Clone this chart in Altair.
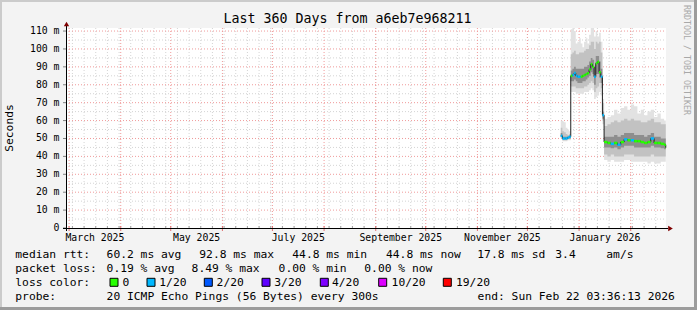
import altair as alt
import pandas as pd

# ---------------- values ----------------
dates = ["2025-12-21", "2025-12-22", "2025-12-23", "2025-12-24", "2025-12-25", "2025-12-26",
         "2025-12-27", "2025-12-28", "2025-12-29", "2025-12-30", "2025-12-31",
         "2026-01-01", "2026-01-02", "2026-01-03", "2026-01-04", "2026-01-05", "2026-01-06",
         "2026-01-07", "2026-01-08", "2026-01-09", "2026-01-10", "2026-01-11", "2026-01-12",
         "2026-01-13", "2026-01-14", "2026-01-15",
         "2026-01-16", "2026-01-18", "2026-01-20", "2026-01-22", "2026-01-24", "2026-01-26",
         "2026-01-28", "2026-01-30", "2026-02-01", "2026-02-03", "2026-02-05", "2026-02-07",
         "2026-02-09", "2026-02-11", "2026-02-13", "2026-02-15", "2026-02-17", "2026-02-19",
         "2026-02-21", "2026-02-22"]
end_time = "2026-02-22T03:36:13Z"

median_ms = [51.5, 50, 50, 50, 50.5, 51,
             85, 85.5, 86.5, 85, 84.5,
             84.5, 84.5, 85, 85.5, 86, 86.5,
             88.5, 91.5, 90, 84.5, 92, 92.8,
             87, 84.5, 63,
             48, 47.5, 47, 47.5, 46.5, 48,
             49.5, 49, 49, 48.5, 48.5, 48,
             47.5, 48, 50, 47.5, 47.5, 47,
             46.5, 44.8]
lost_pings = [1, 1, 1, 1, 1, 1,
              0, 1, 1, 1, 1,
              1, 0, 0, 0, 0, 0,
              0, 0, 0, 1, 0, 0,
              0, 1, 1,
              0, 0, 1, 0, 1, 0,
              1, 0, 1, 0, 0, 0,
              0, 0, 1, 0, 0, 0,
              0, 0]
ping_min = [50, 48.5, 48.5, 48.5, 49, 49,
            76, 76, 76, 75, 75,
            75, 75, 75, 76, 76, 76,
            77, 78, 77, 72, 73, 74,
            76, 74, 58,
            38, 37, 38, 37, 37, 37,
            38, 38, 37, 37, 37, 37,
            37, 36, 37, 36, 36, 37,
            37, 36]
ping_lo2 = [50.5, 49, 49, 49, 49.5, 49.5,
            79, 79, 79, 78, 78,
            78, 78, 78, 79, 79, 80,
            81, 82, 81, 76, 78, 79,
            81, 78, 60,
            41, 40, 41, 40, 40, 40,
            41, 41, 41, 40, 40, 40,
            40, 40, 41, 40, 40, 40,
            40, 39]
ping_lo3 = [51, 49.5, 49.5, 49.5, 50, 50,
            82, 82, 83, 82, 81,
            81, 81, 82, 82, 83, 84,
            85, 87, 86, 80, 86, 86,
            84, 81, 61,
            45, 45, 44.5, 45, 44, 45,
            46, 46, 46, 45, 45, 45,
            45, 45, 46, 45, 45, 44.5,
            44, 43]
ping_hi3 = [53, 51, 51, 51, 51, 51.5,
            88, 89, 90, 89, 89,
            89, 89, 89, 90, 90, 91,
            93, 95, 94, 90, 96, 96,
            93, 89, 65,
            51, 51, 51, 52, 51, 52,
            53, 53, 53, 52, 52, 52,
            51, 52, 53, 51, 51, 50,
            50, 49]
ping_hi2 = [56, 54, 53.5, 52.5, 52, 52.5,
            97, 98, 99, 97, 97,
            98, 98, 98, 99, 100, 100,
            102, 104, 104, 100, 104, 103,
            104, 98, 70,
            57, 58, 59, 60, 59, 60,
            61, 60, 61, 60, 60, 59,
            59, 60, 61, 59, 59, 58,
            58, 57]
ping_max = [60, 59.5, 59, 56, 55, 54,
            111, 112, 110, 103, 104,
            106, 103, 101, 104, 106, 103,
            108, 112, 112, 107, 110, 107,
            109, 104, 72,
            61, 62, 63, 66, 64, 67,
            68, 66, 69, 68, 64, 66,
            63, 65, 66, 62, 64, 61,
            60, 59]

month_starts = ["2025-03-01", "2025-04-01", "2025-05-01", "2025-06-01", "2025-07-01",
                "2025-08-01", "2025-09-01", "2025-10-01", "2025-11-01", "2025-12-01",
                "2026-01-01", "2026-02-01"]
week_starts = [d.strftime("%Y-%m-%d") for d in pd.date_range("2025-03-03", "2026-02-21", freq="7D")]
month_label_dates = ["2025-03-16T12:00:00Z", "2025-05-16T12:00:00Z", "2025-07-16T12:00:00Z",
                     "2025-09-16T00:00:00Z", "2025-11-16T00:00:00Z", "2026-01-16T12:00:00Z"]
month_labels = ["March 2025", "May 2025", "July 2025", "September 2025", "November 2025", "January 2026"]

y_major = [10, 20, 30, 40, 50, 60, 70, 80, 90, 100, 110]
y_minor = [5, 15, 25, 35, 45, 55, 65, 75, 85, 95, 105]
y_tick_values = [0, 10, 20, 30, 40, 50, 60, 70, 80, 90, 100, 110]
y_tick_labels = ["0\u00a0\u00a0", "10 m", "20 m", "30 m", "40 m", "50 m", "60 m",
                 "70 m", "80 m", "90 m", "100 m", "110 m"]

loss_levels = [0, 1, 2, 3, 4, 10, 19]
loss_labels = ["0", "1/20", "2/20", "3/20", "4/20", "10/20", "19/20"]
loss_colors = ["#26ff00", "#00b8ff", "#0059ff", "#5e00ff", "#7e00ff", "#dd00ff", "#ff0000"]

title_text = "Last 360 Days from a6eb7e968211"
y_title = "Seconds"
side_text = "RRDTOOL / TOBI OETIKER"
rtt_row = ["median rtt:", "60.2 ms avg", "92.8 ms max", "44.8 ms min", "44.8 ms now",
           "17.8 ms sd", "3.4", "am/s"]
loss_row = ["packet loss:", "0.19 % avg", "8.49 % max", "0.00 % min", "0.00 % now"]
loss_color_label = "loss color:"
probe_row = ["probe:", "20 ICMP Echo Pings (56 Bytes) every 300s", "end: Sun Feb 22 03:36:13 2026"]

# ---------------- tables ----------------
df = pd.DataFrame({
    "date": dates, "date_end": dates[1:] + [end_time],
    "median": median_ms, "lost": lost_pings,
    "pmin": ping_min, "plo2": ping_lo2, "plo3": ping_lo3,
    "phi3": ping_hi3, "phi2": ping_hi2, "pmax": ping_max,
})
one = pd.DataFrame({"k": [0]})

FONT = "DejaVu Sans Mono"
xs = alt.Scale(type="utc", domain=[
    alt.DateTime(year=2025, month=2, date=27, hours=3, minutes=36, seconds=13, utc=True),
    alt.DateTime(year=2026, month=2, date=22, hours=3, minutes=36, seconds=13, utc=True)])
ys = alt.Scale(domain=[0, 111.7], nice=False, zero=True)


def X(f):
    return alt.X(f"{f}:T", scale=xs, axis=None)


def Y(f):
    return alt.Y(f"{f}:Q", scale=ys, axis=None)


layers = []

# grid
layers.append(alt.Chart(pd.DataFrame({"v": y_minor})).mark_rule(color="#d4d4d4", strokeDash=[1, 2])
              .encode(y=Y("v"), x=alt.value(0), x2=alt.value(600)))
layers.append(alt.Chart(pd.DataFrame({"d": week_starts})).mark_rule(color="#d4d4d4", strokeDash=[1, 2])
              .encode(x=X("d"), y=alt.value(0), y2=alt.value(200)))
layers.append(alt.Chart(pd.DataFrame({"v": y_major})).mark_rule(color="#f09a9a", strokeDash=[1, 2])
              .encode(y=Y("v"), x=alt.value(0), x2=alt.value(600)))
layers.append(alt.Chart(pd.DataFrame({"d": month_starts})).mark_rule(color="#f09a9a", strokeDash=[1, 2])
              .encode(x=X("d"), y=alt.value(0), y2=alt.value(200)))

# smoke
for lo, hi, col in [("pmin", "pmax", "#e2e2e2"), ("plo2", "phi2", "#c2c2c2"), ("plo3", "phi3", "#8e8e8e")]:
    layers.append(alt.Chart(df).mark_area(interpolate="step-after", color=col, clip=True)
                  .encode(x=X("date"), y=Y(lo), y2=alt.Y2(hi)))

# median
layers.append(alt.Chart(df).mark_line(interpolate="step-after", color="#202020", strokeWidth=1)
              .encode(x=X("date"), y=Y("median")))
layers.append(alt.Chart(df).mark_rule(strokeWidth=2.5)
              .encode(x=X("date"), x2=alt.X2("date_end"), y=Y("median"),
                      color=alt.Color("lost:O", scale=alt.Scale(domain=loss_levels, range=loss_colors),
                                      legend=None)))

# axes
layers.append(alt.Chart(pd.DataFrame({"d": week_starts})).mark_rule(color="#a0a0a0")
              .encode(x=X("d"), y=alt.value(198), y2=alt.value(200)))
layers.append(alt.Chart(pd.DataFrame({"d": month_starts})).mark_rule(color="#e07070")
              .encode(x=X("d"), y=alt.value(198), y2=alt.value(203)))
layers.append(alt.Chart(pd.DataFrame({"v": y_tick_values})).mark_rule(color="#808080")
              .encode(y=Y("v"), x=alt.value(-3), x2=alt.value(0)))
layers.append(alt.Chart(one).mark_rule(color="#000000")
              .encode(x=alt.value(-3), x2=alt.value(602), y=alt.value(200.5)))
layers.append(alt.Chart(one).mark_rule(color="#000000")
              .encode(x=alt.value(0.5), y=alt.value(203), y2=alt.value(-2)))
layers.append(alt.Chart(one).mark_point(shape="triangle-right", filled=True, size=28, color="#7f0000", opacity=1)
              .encode(x=alt.value(604.5), y=alt.value(200.5)))
layers.append(alt.Chart(one).mark_point(shape="triangle-up", filled=True, size=28, color="#7f0000", opacity=1)
              .encode(x=alt.value(0.5), y=alt.value(-4)))

# tick labels
layers.append(alt.Chart(pd.DataFrame({"v": y_tick_values, "t": y_tick_labels}))
              .mark_text(font=FONT, fontSize=9.8, align="right", baseline="middle", color="#000000")
              .encode(y=Y("v"), x=alt.value(-6.5), text="t:N"))
layers.append(alt.Chart(pd.DataFrame({"d": month_label_dates, "t": month_labels}))
              .mark_text(font=FONT, fontSize=9.8, align="center", baseline="alphabetic", color="#000000")
              .encode(x=X("d"), y=alt.value(212.7), text="t:N"))


def txt(s, x, y, size=11.3, align="left", angle=0, color="#000000", baseline="alphabetic"):
    return (alt.Chart(pd.DataFrame({"t": [s]}))
            .mark_text(font=FONT, fontSize=size, align=align, baseline=baseline, angle=angle, color=color)
            .encode(x=alt.value(x), y=alt.value(y), text="t:N"))


OX, OY = 66, 28  # canvas -> view offset

layers.append(txt(title_text, 347.5 - OX, 23.3 - OY, size=13.3, align="center"))
layers.append(txt(y_title, 10 - OX, 128 - OY, size=11.3, align="center", angle=270, baseline="middle"))
layers.append(txt(side_text, 686 - OX, 60 - OY, size=8.3, align="center", angle=90, color="#a8a8a8",
                  baseline="middle"))

for s, x in zip(rtt_row, [16, 107.3, 200, 293, 386.7, 478, 556, 607]):
    layers.append(txt(s, x - 0.7 - OX, 258.3 - OY))
for s, x in zip(loss_row, [16, 107.3, 192.3, 279.3, 365]):
    layers.append(txt(s, x - 0.7 - OX, 272 - OY))
layers.append(txt(loss_color_label, 16 - 0.7 - OX, 286 - OY))
for s, c, sx, lx in zip(loss_labels, loss_colors,
                        [114, 151, 208.3, 266, 324.3, 382.7, 447.3],
                        [123.3, 160, 217.3, 275, 332.7, 392.3, 456.7]):
    layers.append(alt.Chart(one).mark_square(size=64, color=c, stroke="#000000", strokeWidth=1, opacity=1)
                  .encode(x=alt.value(sx - OX), y=alt.value(282.3 - OY)))
    layers.append(txt(s, lx - 0.7 - OX, 286 - OY))
for s, x in zip(probe_row, [16, 107.3, 478.3]):
    layers.append(txt(s, x - 0.7 - OX, 300 - OY))

# frame shading
for x1, x2, y1, y2, c in [(0, 697, 0, 2, "#cbcbcb"), (0, 2, 0, 310, "#cbcbcb"),
                          (694, 697, 0, 310, "#9c9c9c"), (0, 697, 307, 310, "#9c9c9c")]:
    layers.append(alt.Chart(one).mark_rect(color=c)
                  .encode(x=alt.value(x1 - OX), x2=alt.value(x2 - OX),
                          y=alt.value(y1 - OY), y2=alt.value(y2 - OY)))

chart = (alt.layer(*layers)
         .properties(width=600, height=200, background="#f3f3f3",
                     padding={"left": 66, "top": 28, "right": 31, "bottom": 82},
                     autosize=alt.AutoSizeParams(type="none"))
         .configure_view(stroke=None, fill="#ffffff"))

chart.save("out.html", embed_options={"renderer": "svg", "actions": False})
